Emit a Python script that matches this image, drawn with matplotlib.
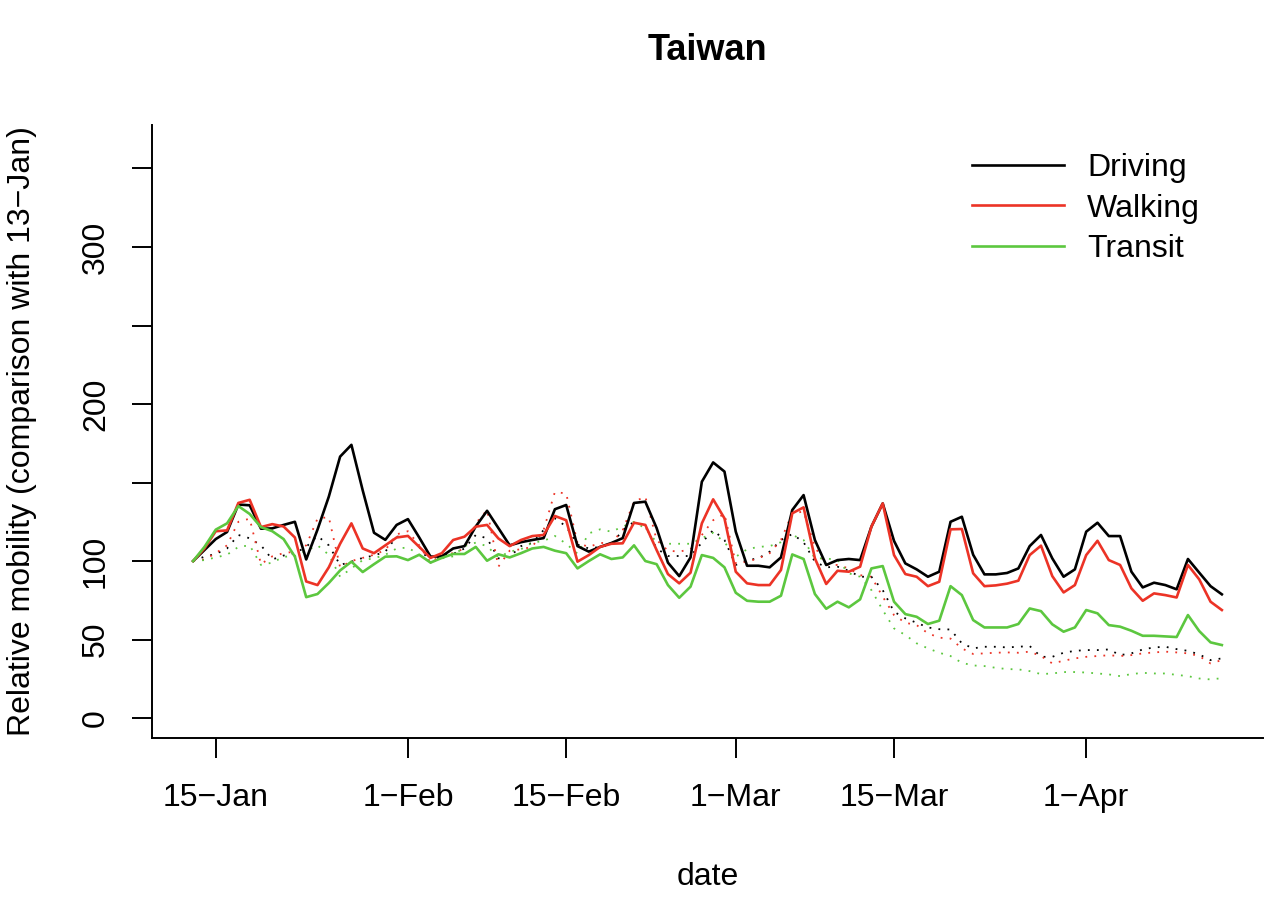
import numpy as np
import pandas as pd
import matplotlib
matplotlib.use("Agg")
import matplotlib.pyplot as plt

plt.rcParams['font.family'] = ['Liberation Sans', 'DejaVu Sans']

# daily values, 13-Jan-2020 .. 13-Apr-2020 (index 100 = 13-Jan)
dates = pd.date_range("2020-01-13", "2020-04-13", freq="D")

driving = [100, 107, 114, 118.5, 136, 135.5, 120.6, 120.8, 123, 125,
           101, 120, 141, 166.5, 174, 145, 118, 113.5, 123, 126.7,
           115, 102.8, 103, 108, 109.5, 122, 132, 121, 110, 112,
           113.4, 114.6, 133, 135.7, 109.5, 106, 109, 111.5, 114.6, 137,
           137.8, 121, 99, 90.4, 102.3, 150.5, 162.8, 157, 118.7, 97,
           97, 96, 102.3, 132.5, 142, 113.4, 97.5, 100.6, 101.3, 100.6,
           121.9, 136.7, 112.8, 98.5, 94.7, 90, 93.2, 125, 128.2, 104,
           91.5, 91.5, 92.4, 95.3, 109.5, 116.6, 101.7, 90, 94.7, 118.7,
           124.4, 115.9, 115.9, 93.2, 83.2, 86.2, 84.7, 82, 101.3, 92.6,
           84, 78.8]
walking = [100, 108, 119, 119.5, 137, 139, 121.6, 123.5, 122, 115,
           87, 84.7, 96, 111, 124, 108, 105, 110, 115, 116,
           109, 102, 105, 113.4, 115.5, 121.9, 123, 114.4, 109.5, 113.4,
           115.9, 116.6, 128.7, 126, 99.6, 103.8, 109, 111, 111.3, 124.4,
           123, 107, 91.7, 85.8, 92.6, 124, 139.3, 127.2, 93.2, 85.8,
           84.7, 84.7, 94.3, 130.4, 134.2, 101.7, 85.4, 93.8, 93.2, 96.4,
           121.9, 136.7, 103.8, 91.7, 90, 84, 86.8, 120.2, 120.4, 92.2,
           84, 84.5, 85.6, 87.5, 103.8, 109.8, 90.4, 80, 84.7, 103.8,
           112.9, 100.6, 97.5, 82.6, 74.7, 79.4, 78.3, 76.8, 97.5, 88.3,
           74.1, 68.8]
transit = [100, 109, 120, 124, 135, 130, 121.6, 119, 114, 102.8,
           77, 79, 86, 94, 99.6, 93, 98, 102.8, 103, 100.6,
           104, 99, 102, 104.5, 104.5, 109, 100.2, 104.3, 102.3, 105,
           108, 109, 106.6, 105, 95.3, 100, 104.3, 101.3, 102.3, 110,
           100, 98, 84.7, 76.6, 83.7, 103.8, 102, 96, 79.8, 74.7,
           74.1, 74.1, 77.9, 104.2, 101.3, 79, 69.6, 74.1, 70.5, 75.6,
           95.3, 96.8, 74.1, 66.2, 64.5, 59.9, 62, 84, 78.3, 62.4,
           57.7, 57.7, 57.7, 59.9, 69.8, 68.1, 59.7, 55, 57.7, 68.8,
           66.7, 59.2, 58.2, 55.6, 52.4, 52.4, 52, 51.6, 65.6, 55.4,
           48.2, 46.5]

# dotted companions
driving_dot = [100, 102.8, 104.5, 108, 116.6, 114.5, 110, 101, 103.5, 105,
               109, 116, 110, 97.5, 99.6, 102, 103.5, 106, 115.5, 116,
               109, 99, 103.5, 104.5, 108, 116.6, 114.5, 101.7, 102.7, 109.5,
               111.5, 119.7, 127.2, 122, 110.5, 108, 109, 110.5, 119.7, 125,
               122, 108, 103.2, 103.2, 103.2, 111.7, 119.7, 113.4, 97.5, 100.6,
               101.7, 106, 113.4, 117.2, 112, 99.6, 96, 96.4, 93.8, 90,
               90, 81.5, 67.7, 63.5, 60.7, 57.7, 56.6, 56.4, 47.6, 44.4,
               45.4, 45.4, 45, 45.4, 45.9, 39, 39, 41.6, 42.8, 43.3,
               43.3, 43.7, 40.1, 41.2, 43.7, 45, 45.4, 43.9, 42.8, 40.5,
               36.9, 38]
walking_dot = [100, 101, 105, 110, 125, 127, 98, 103, 105, 106,
               110, 127, 128, 96, 100, 102, 104, 107, 117, 119,
               110, 99, 104, 105, 108, 124, 132.5, 96.4, 106.6, 107.5,
               109, 119.7, 144, 143, 111.5, 109, 111.5, 111.5, 119.7, 137.8,
               141, 113.4, 106.6, 106, 107.5, 116.6, 126, 130, 98.5, 99.6,
               101.7, 105, 113.4, 130.4, 131.5, 109, 97.5, 97.5, 95.3, 91,
               90, 77.3, 65.6, 60.7, 59.2, 54, 51.2, 50.6, 44.4, 40.8,
               41.2, 41.6, 41.8, 41.6, 42.3, 39.5, 34.8, 36.5, 38, 39,
               39.5, 40, 39.5, 40.1, 41.2, 41.8, 42.3, 41.8, 41.2, 39.5,
               34.8, 36.9]
transit_dot = [100, 100.6, 102.3, 104, 109, 110, 97.5, 99, 102.7, 103.2,
               106.6, 110, 104, 90, 95.3, 100.6, 101.7, 104, 108, 108.6,
               104, 99, 101.7, 103, 109.5, 111.7, 109.5, 102.3, 106, 107.5,
               111.7, 112.8, 116, 111, 104.7, 117.6, 120.2, 118.7, 121.9, 125,
               120.8, 111.9, 111, 111, 111, 114.5, 118, 112, 102.7, 107.5,
               109, 109.5, 112, 116.6, 113.4, 101.7, 101.7, 100.6, 92.2, 90,
               81.5, 68.8, 57.1, 52.9, 47.6, 44.4, 41.6, 39.5, 35.2, 33.5,
               33.1, 32, 31.2, 31, 29.9, 28, 28.4, 29.3, 29.3, 29,
               28.4, 27.8, 26.7, 28, 28.8, 28.4, 28.4, 27.5, 26.7, 25.2,
               24.6, 25.4]

series = ["Driving", "Walking", "Transit"]
colors = ["black", "#EC3326", "#5CC73F"]

tick_dates = pd.to_datetime(["2020-01-15", "2020-02-01", "2020-02-15",
                             "2020-03-01", "2020-03-15", "2020-04-01"])
tick_labels = ["15\u2212Jan", "1\u2212Feb", "15\u2212Feb",
               "1\u2212Mar", "15\u2212Mar", "1\u2212Apr"]
y_ticks = [0, 50, 100, 150, 200, 250, 300, 350]
y_labels = ["0", "50", "100", "", "200", "", "300", ""]

fig = plt.figure(figsize=(12.8, 8.97), dpi=100)
ax = fig.add_axes([152/1280, 1-738/897, (1263-152)/1280, (738-125)/897])

solid = [driving, walking, transit]
dotted = [driving_dot, walking_dot, transit_dot]
for col, d in zip(colors, dotted):
    ax.plot(dates, d, color=col, lw=1.3, linestyle=(0, (1, 4)))
for name, col, s in zip(series, colors, solid):
    ax.plot(dates, s, color=col, lw=1.9, label=name)

span = dates[-1] - dates[0]
ax.set_xlim(dates[0] - span * 0.04, dates[-1] + span * 0.04)
ax.set_ylim(-12.7, 377.7)

ax.set_xticks(tick_dates)
ax.set_xticklabels(tick_labels)
ax.set_yticks(y_ticks)
ax.set_yticklabels(y_labels, rotation=90, va="center")

for side in ["top", "right"]:
    ax.spines[side].set_visible(False)
for side in ["left", "bottom"]:
    ax.spines[side].set_linewidth(1.4)
ax.tick_params(axis="both", length=14.5, width=1.4, labelsize=23, direction="out")
ax.tick_params(axis="x", pad=18)
ax.tick_params(axis="y", pad=15)

ax.set_xlabel("date", fontsize=23, labelpad=35)
ax.set_ylabel("Relative mobility (comparison with 13\u2212Jan)", fontsize=23, labelpad=32)
ax.set_title("Taiwan", fontsize=26, fontweight="bold", pad=47)

ax.legend(loc="upper left", bbox_to_anchor=(0.727, 0.975), borderaxespad=0,
          frameon=False, fontsize=23, handlelength=2.87, handletextpad=0.72,
          labelspacing=0.33)

fig.savefig("out.png", dpi=100)
